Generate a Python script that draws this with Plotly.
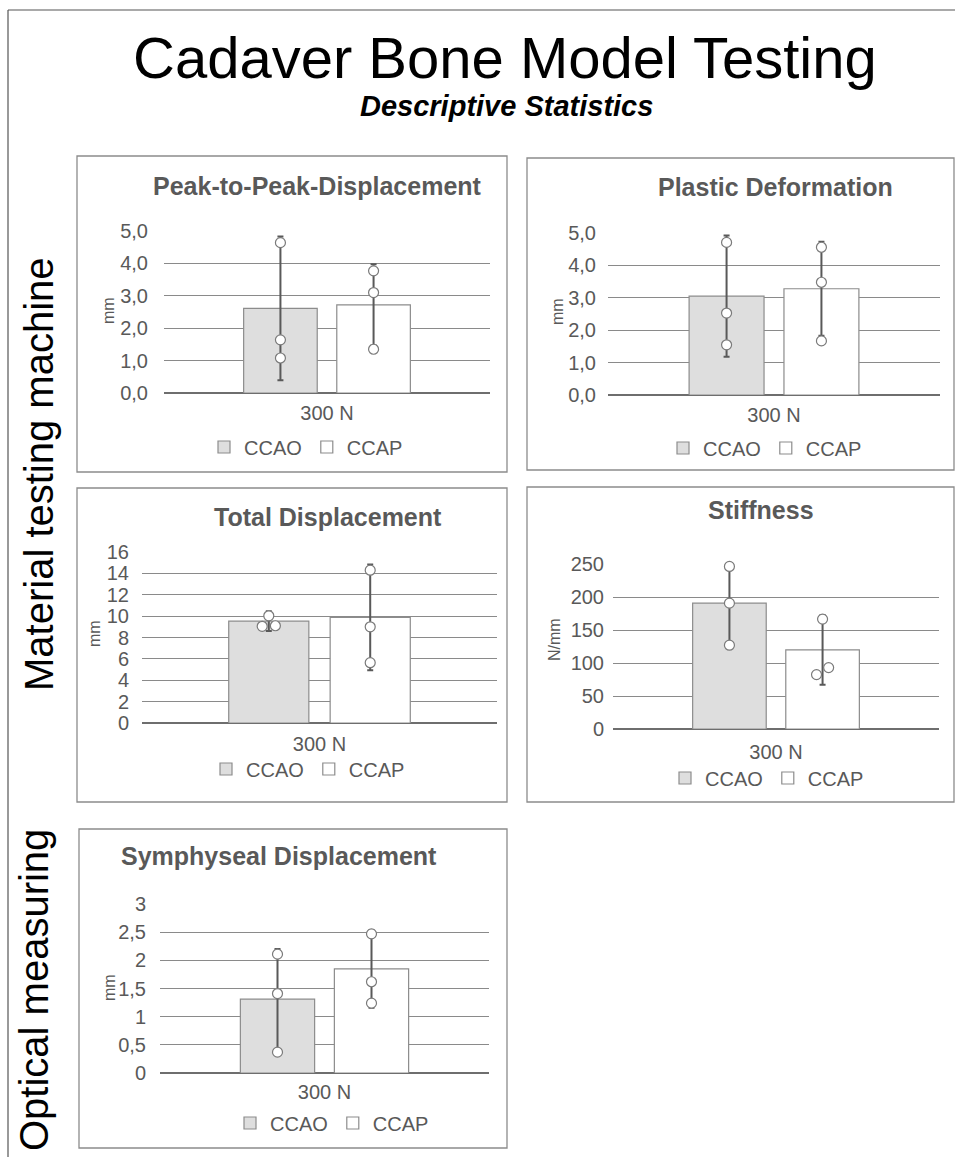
import plotly.graph_objects as go

# ---------------- data ----------------
series = ["CCAO", "CCAP"]
category = "300 N"

ptp_mean = [2.61, 2.72]
ptp_sd = [2.22, 1.25]
ptp_ccao_pts = [4.64, 1.64, 1.08]
ptp_ccap_pts = [3.77, 3.10, 1.35]

pd_mean = [3.05, 3.28]
pd_sd = [1.87, 1.45]
pd_ccao_pts = [4.71, 2.53, 1.55]
pd_ccap_pts = [4.56, 3.48, 1.67]

td_mean = [9.53, 9.88]
td_sd = [0.93, 4.94]
td_ccao_pts = [10.03, 9.05, 9.10]
td_ccap_pts = [14.30, 9.00, 5.64]

st_mean = [190.7, 119.9]
st_sd = [63.8, 53.0]
st_ccao_pts = [246.3, 190.7, 127.0]
st_ccap_pts = [166.5, 93.0, 82.4]

sy_mean = [1.31, 1.85]
sy_sd = [0.89, 0.69]
sy_ccao_pts = [2.11, 1.41, 0.37]
sy_ccap_pts = [2.47, 1.62, 1.24]

panel_titles = ["Peak-to-Peak-Displacement", "Plastic Deformation", "Total Displacement",
                "Stiffness", "Symphyseal Displacement"]
y_titles = ["mm", "mm", "mm", "N/mm", "mm"]

# ---------------- layout helpers ----------------
W, H = 955, 1157
FONT = "Liberation Sans, Arial, sans-serif"
GRAY_TXT = "#595959"


def px(x):
    return x / W


def py(y):
    return 1 - y / H


BAR_W = 0.79
HALF = 1.75

panels = [
    dict(mean=ptp_mean, sd=ptp_sd, pts=[ptp_ccao_pts, ptp_ccap_pts], ymax=5, dtick=1, fmt=".1f",
         area=(164, 490, 231, 393), box=(77, 156, 507, 472), title=(317, 186), ytitle=(108, 311),
         legend=(306, 447), ystand=15, xstand=6),
    dict(mean=pd_mean, sd=pd_sd, pts=[pd_ccao_pts, pd_ccap_pts], ymax=5, dtick=1, fmt=".1f",
         area=(608, 940, 233, 395), box=(527, 158, 954, 470), title=(775, 187), ytitle=(557, 312),
         legend=(765, 448), ystand=11, xstand=6),
    dict(mean=td_mean, sd=td_sd, pts=[td_ccao_pts, td_ccap_pts], ymax=16, dtick=2, fmt="",
         area=(142, 497, 552, 723), box=(77, 488, 507, 802), title=(328, 517), ytitle=(94, 634),
         legend=(308, 769), ystand=12, xstand=7),
    dict(mean=st_mean, sd=st_sd, pts=[st_ccao_pts, st_ccap_pts], ymax=250, dtick=50, fmt="",
         area=(613, 939, 564, 729), box=(527, 487, 954, 802), title=(761, 510), ytitle=(554, 640),
         legend=(767, 778), ystand=8, xstand=9),
    dict(mean=sy_mean, sd=sy_sd, pts=[sy_ccao_pts, sy_ccap_pts], ymax=3, dtick=0.5, fmt="",
         area=(160, 489, 904, 1073), box=(79, 829, 507, 1148), title=(279, 856), ytitle=(109, 988),
         legend=(332, 1123), ystand=13, xstand=5),
]

fills = ["#dedede", "#ffffff"]


def dodge(values, span, tol=0.045, off=0.065):
    offs = [0.0] * len(values)
    order = sorted(range(len(values)), key=lambda i: values[i])
    for a, b in zip(order, order[1:]):
        if abs(values[b] - values[a]) < tol * span and offs[a] == 0 and offs[b] == 0:
            offs[a] = -off
            offs[b] = off
    return offs


fig = go.Figure()
shapes = []
annotations = []
layout_extra = {}

for k, p in enumerate(panels):
    n = k + 1
    xa = "x" if n == 1 else f"x{n}"
    ya = "y" if n == 1 else f"y{n}"
    lg = "legend" if n == 1 else f"legend{n}"
    for s, name in enumerate(series):
        fig.add_trace(go.Bar(
            x=[s], y=[p["mean"][s]], width=BAR_W, name=name,
            marker=dict(color=fills[s], line=dict(color="#8c8c8c", width=1.2)),
            error_y=dict(type="data", array=[p["sd"][s]], symmetric=True,
                         color="#595959", thickness=2, width=3),
            xaxis=xa, yaxis=ya, legend=lg, showlegend=True, cliponaxis=False,
            hoverinfo="skip",
        ))
    for s, name in enumerate(series):
        vals = p["pts"][s]
        offs = dodge(vals, p["ymax"])
        fig.add_trace(go.Scatter(
            x=[s + o for o in offs], y=vals, mode="markers", name=name,
            marker=dict(size=10, color="white", line=dict(color="#7a7a7a", width=1.2)),
            xaxis=xa, yaxis=ya, showlegend=False, cliponaxis=False, hoverinfo="skip",
        ))
    x0, x1, yt, yb = p["area"]
    xkey = "xaxis" if n == 1 else f"xaxis{n}"
    ykey = "yaxis" if n == 1 else f"yaxis{n}"
    layout_extra[xkey] = dict(
        domain=[px(x0), px(x1)], anchor=ya, range=[0.5 - HALF, 0.5 + HALF],
        showgrid=False, zeroline=False, showline=False, ticks="", automargin=False,
        tickmode="array", tickvals=[0.5], ticktext=[category],
        tickfont=dict(size=20, color=GRAY_TXT, family=FONT), ticklabelstandoff=p["xstand"],
        fixedrange=True,
    )
    yd = dict(
        domain=[py(yb), py(yt)], anchor=xa, range=[0, p["ymax"]], dtick=p["dtick"], tick0=0,
        showgrid=True, gridcolor="#8a8a8a", gridwidth=1.2, automargin=False,
        zeroline=True, zerolinecolor="#6e6e6e", zerolinewidth=1.5, showline=False, ticks="",
        tickfont=dict(size=20, color=GRAY_TXT, family=FONT), ticklabelstandoff=p["ystand"],
        fixedrange=True,
    )
    if p["fmt"]:
        yd["tickformat"] = p["fmt"]
    layout_extra[ykey] = yd
    lx, ly = p["legend"]
    layout_extra[lg] = dict(
        orientation="h", x=px(lx), y=py(ly), xanchor="center", yanchor="middle",
        xref="paper", yref="paper",
        font=dict(size=20, color=GRAY_TXT, family=FONT), bgcolor="rgba(0,0,0,0)",
        traceorder="normal",
    )
    bx0, by0, bx1, by1 = p["box"]
    shapes.append(dict(type="rect", xref="paper", yref="paper",
                       x0=px(bx0), x1=px(bx1), y0=py(by1), y1=py(by0),
                       line=dict(color="#8c8c8c", width=1.3), fillcolor="rgba(0,0,0,0)", layer="below"))
    tx, ty = p["title"]
    annotations.append(dict(text=f"<b>{panel_titles[k]}</b>", x=px(tx), y=py(ty), xref="paper", yref="paper",
                            xanchor="center", yanchor="middle", showarrow=False,
                            font=dict(size=25, color=GRAY_TXT, family=FONT)))
    ax_, ay_ = p["ytitle"]
    annotations.append(dict(text=y_titles[k], x=px(ax_), y=py(ay_), xref="paper", yref="paper",
                            xanchor="center", yanchor="middle", showarrow=False, textangle=-90,
                            font=dict(size=16, color=GRAY_TXT, family=FONT)))

# outer frame (left and top edges)
shapes.append(dict(type="line", xref="paper", yref="paper", x0=px(8), x1=px(8), y0=0, y1=py(10),
                   line=dict(color="#555555", width=1.2)))
shapes.append(dict(type="line", xref="paper", yref="paper", x0=px(8), x1=1, y0=py(10), y1=py(10),
                   line=dict(color="#555555", width=1.2)))

annotations.append(dict(text="Cadaver Bone Model Testing", x=px(505), y=py(58), xref="paper", yref="paper",
                        xanchor="center", yanchor="middle", showarrow=False,
                        font=dict(size=58, color="black", family=FONT)))
annotations.append(dict(text="<b><i>Descriptive Statistics</i></b>", x=px(506), y=py(106), xref="paper",
                        yref="paper", xanchor="center", yanchor="middle", showarrow=False,
                        font=dict(size=29, color="black", family=FONT)))
annotations.append(dict(text="Material testing machine", x=px(39), y=py(474), xref="paper", yref="paper",
                        xanchor="center", yanchor="middle", showarrow=False, textangle=-90,
                        font=dict(size=40, color="black", family=FONT)))
annotations.append(dict(text="Optical measuring", x=px(34), y=py(990), xref="paper", yref="paper",
                        xanchor="center", yanchor="middle", showarrow=False, textangle=-90,
                        font=dict(size=40, color="black", family=FONT)))

fig.update_layout(
    width=W, height=H, margin=dict(l=0, r=0, t=0, b=0, autoexpand=False),
    paper_bgcolor="white", plot_bgcolor="white",
    font=dict(family=FONT, color=GRAY_TXT),
    separators=", ", barmode="overlay",
    shapes=shapes, annotations=annotations,
    **layout_extra,
)

fig.write_html(
    "out.html",
    config={"displayModeBar": False},
    post_script=(
        "document.documentElement.style.margin='0';"
        "document.body.style.margin='0';"
        "document.documentElement.style.overflow='hidden';"
        "document.body.style.overflow='hidden';"
        "var d=document.getElementById('{plot_id}');"
        "d.style.position='fixed';d.style.left='0px';d.style.top='0px';"
    ),
)
